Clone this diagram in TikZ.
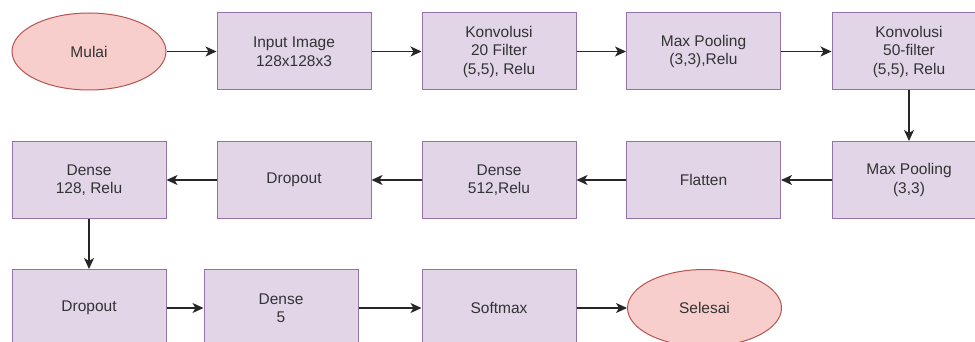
\documentclass[tikz,border=0pt]{standalone}
\usepackage{fontspec}
\setmainfont{Liberation Sans}
\usetikzlibrary{arrows.meta,shapes.geometric}
\definecolor{boxfill}{HTML}{E1D5E7}
\definecolor{boxline}{HTML}{9673A6}
\definecolor{ellfill}{HTML}{F8CECC}
\definecolor{ellline}{HTML}{B85450}
\definecolor{txt}{HTML}{333333}
\tikzset{
  layer/.style={draw=boxline, fill=boxfill, line width=1pt, minimum width=154pt, minimum height=77pt,
    inner sep=0pt, align=center, text=txt, font=\fontsize{15.5}{18.5}\selectfont},
  terminal/.style={ellipse, draw=ellline, fill=ellfill, line width=1pt, minimum width=154pt, minimum height=77pt,
    inner sep=0pt, align=center, text=txt, font=\fontsize{15.5}{18.5}\selectfont},
  flow/.style={draw=black!85, line width=1.4pt, -{Stealth[length=11pt,width=10pt,inset=3pt]}}
}
\begin{document}
\begin{tikzpicture}[x=1pt,y=-1pt]
\useasboundingbox (0,0) rectangle (975,342);
\clip (0,0) rectangle (975,342);
\fill[white] (0,0) rectangle (975,342);
% row 1
\node[terminal] (mulai) at (89,51.5) {Mulai};
\node[layer] (input) at (294,51.5) {Input Image\\128x128x3};
\node[layer] (konv1) at (499,51.5) {Konvolusi\\20 Filter\\(5,5), Relu};
\node[layer] (pool1) at (703.5,51.5) {Max Pooling\\(3,3),Relu};
\node[layer] (konv2) at (909,51.5) {Konvolusi\\50-filter\\(5,5), Relu};
% row 2
\node[layer] (pool2) at (909,180) {Max Pooling\\(3,3)};
\node[layer] (flat) at (703.5,180) {Flatten};
\node[layer] (dense512) at (499,180) {Dense\\512,Relu};
\node[layer] (drop1) at (294,180) {Dropout};
\node[layer] (dense128) at (89,180) {Dense\\128, Relu};
% row 3
\node[layer] (drop2) at (89,308) {Dropout};
\node[layer] (dense5) at (281,308) {Dense\\5};
\node[layer] (soft) at (499,308) {Softmax};
\node[terminal] (selesai) at (704.5,308) {Selesai};
% connectors
\draw[flow] (mulai) -- (input);
\draw[flow] (input) -- (konv1);
\draw[flow] (konv1) -- (pool1);
\draw[flow] (pool1) -- (konv2);
\draw[flow] (konv2) -- (pool2);
\draw[flow] (pool2) -- (flat);
\draw[flow] (flat) -- (dense512);
\draw[flow] (dense512) -- (drop1);
\draw[flow] (drop1) -- (dense128);
\draw[flow] (dense128) -- (drop2);
\draw[flow] (drop2) -- (dense5);
\draw[flow] (dense5) -- (soft);
\draw[flow] (soft) -- (selesai);
\end{tikzpicture}
\end{document}
